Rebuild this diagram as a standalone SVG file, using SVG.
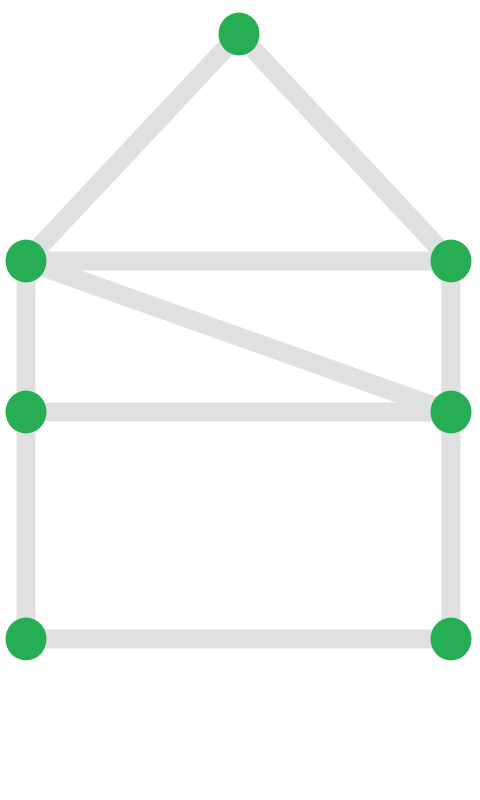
<svg xmlns="http://www.w3.org/2000/svg" width="480" height="800" viewBox="0 0 480 800">
<style>
.e{stroke:#e0e0e0;stroke-width:19;fill:none}
.n{fill:#27ae55}
</style>
<rect width="480" height="800" fill="#fff"/>
<g id="edges">
<line class="e" x1="239" y1="34" x2="26" y2="261"/>
<line class="e" x1="239" y1="34" x2="451" y2="261"/>
<line class="e" x1="26" y1="261" x2="451" y2="261"/>
<line class="e" x1="26" y1="261" x2="451" y2="412"/>
<line class="e" x1="26" y1="412" x2="451" y2="412"/>
<line class="e" x1="26" y1="639" x2="451" y2="639"/>
<line class="e" x1="26" y1="261" x2="26" y2="412"/>
<line class="e" x1="26" y1="412" x2="26" y2="639"/>
<line class="e" x1="451" y1="261" x2="451" y2="412"/>
<line class="e" x1="451" y1="412" x2="451" y2="639"/>
</g>
<g id="n1"><ellipse class="n" cx="239" cy="34" rx="20.5" ry="21.5"/></g>
<g id="n2"><ellipse class="n" cx="26" cy="261" rx="20.5" ry="21.5"/></g>
<g id="n3"><ellipse class="n" cx="451" cy="261" rx="20.5" ry="21.5"/></g>
<g id="n4"><ellipse class="n" cx="26" cy="412" rx="20.5" ry="21.5"/></g>
<g id="n5"><ellipse class="n" cx="451" cy="412" rx="20.5" ry="21.5"/></g>
<g id="n6"><ellipse class="n" cx="26" cy="639" rx="20.5" ry="21.5"/></g>
<g id="n7"><ellipse class="n" cx="451" cy="639" rx="20.5" ry="21.5"/></g>
</svg>
